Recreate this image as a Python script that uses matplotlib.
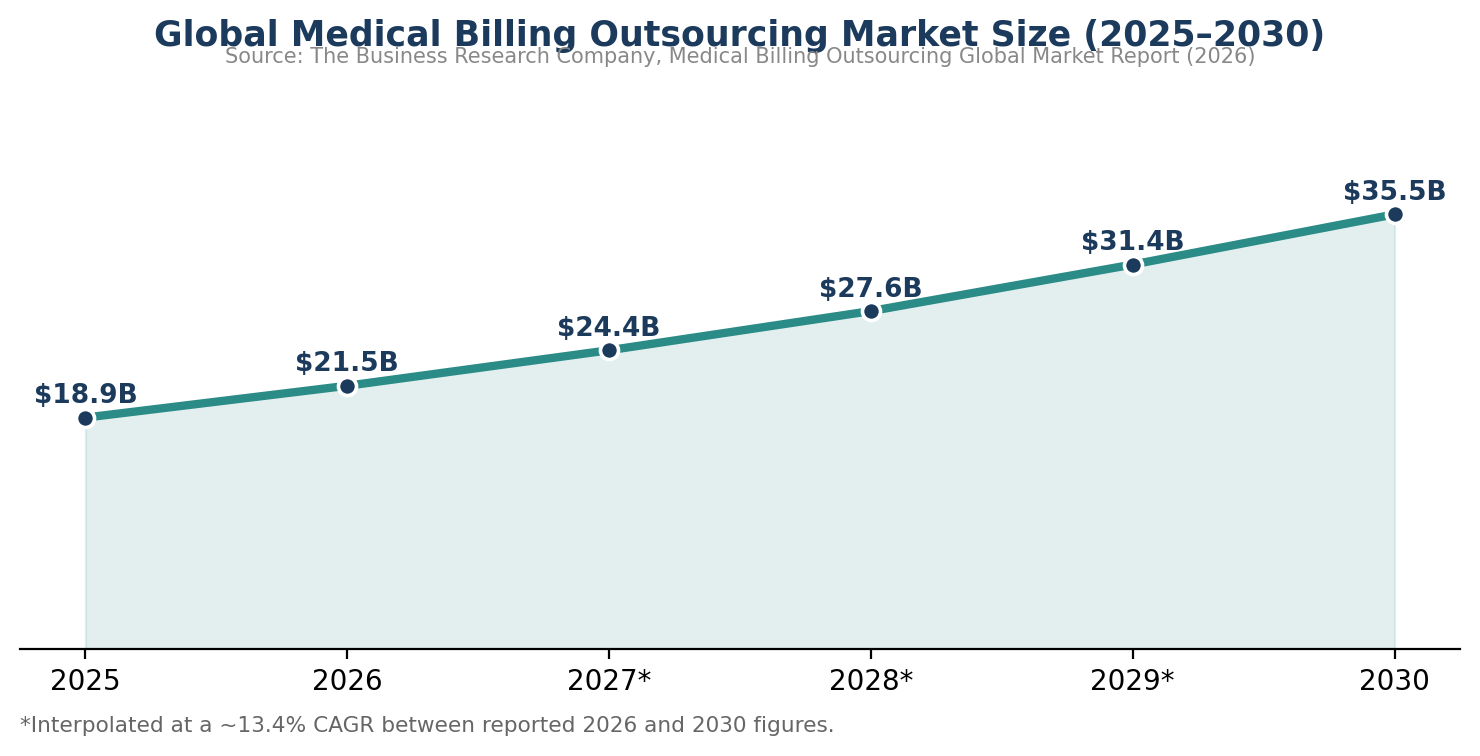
import matplotlib.pyplot as plt

years = ['2025', '2026', '2027*', '2028*', '2029*', '2030']
market_size = [18.9, 21.5, 24.4, 27.6, 31.4, 35.5]
value_labels = ['$18.9B', '$21.5B', '$24.4B', '$27.6B', '$31.4B', '$35.5B']

teal = '#2a8b87'
navy = '#1b3a5c'

fig = plt.figure(figsize=(7.4, 3.78), dpi=200)
ax = fig.add_axes([0.0135, 0.1415, 0.973, 0.69])

x = list(range(len(years)))
ax.fill_between(x, market_size, 0, color=teal, alpha=0.13, linewidth=0.8)
ax.plot(x, market_size, color=teal, linewidth=3, zorder=3)
ax.plot(x, market_size, 'o', color=navy, markersize=6.5,
        markeredgecolor='white', markeredgewidth=1.3, zorder=4)

for xi, v, lab in zip(x, market_size, value_labels):
    ax.annotate(lab, (xi, v), xytext=(0, 3), textcoords='offset points',
                ha='center', va='bottom', fontsize=9.5, fontweight='bold', color=navy)

ax.set_ylim(0, max(market_size) * 1.2)
ax.set_xticks(x)
ax.set_xticklabels(years, fontsize=10)
ax.set_yticks([])
for s in ['top', 'right', 'left']:
    ax.spines[s].set_visible(False)

fig.text(0.5, 0.952, 'Global Medical Billing Outsourcing Market Size (2025\u20132030)',
         ha='center', va='center', fontsize=12.5, fontweight='bold', color=navy)
fig.text(0.5, 0.924, 'Source: The Business Research Company, Medical Billing Outsourcing Global Market Report (2026)',
         ha='center', va='center', fontsize=7.5, color='#888888')
fig.text(0.0135, 0.04, '*Interpolated at a ~13.4% CAGR between reported 2026 and 2030 figures.',
         ha='left', va='center', fontsize=7.8, color='#666666')

fig.savefig('out.png', dpi=200)
